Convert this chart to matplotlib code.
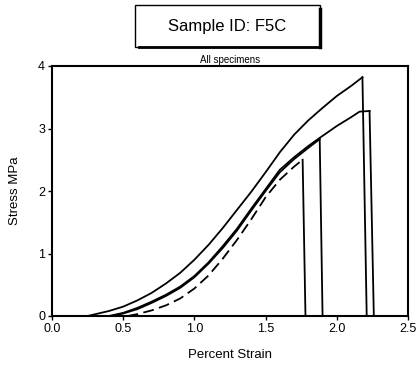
import matplotlib
matplotlib.use("Agg")
import matplotlib.pyplot as plt
from matplotlib.patches import Rectangle
from matplotlib.lines import Line2D

plt.rcParams['font.family'] = ['Liberation Sans', 'DejaVu Sans']

# Specimen curves (strain %, stress MPa)
s1_strain = [0.25, 0.40, 0.50, 0.60, 0.70, 0.80, 0.90, 1.00, 1.10, 1.20, 1.30, 1.40,
             1.50, 1.60, 1.70, 1.80, 1.90, 2.00, 2.10, 2.18]
s1_stress = [0.00, 0.08, 0.15, 0.25, 0.37, 0.52, 0.69, 0.90, 1.14, 1.41, 1.70, 1.99,
             2.30, 2.62, 2.90, 3.13, 3.33, 3.52, 3.68, 3.82]
s1_break = 2.21

s2_strain = [0.40, 0.50, 0.60, 0.70, 0.80, 0.90, 1.00, 1.10, 1.20, 1.30, 1.40, 1.50,
             1.60, 1.70, 1.80, 1.88, 2.00, 2.10, 2.16, 2.23]
s2_stress = [0.00, 0.05, 0.13, 0.23, 0.34, 0.47, 0.64, 0.86, 1.12, 1.40, 1.72, 2.03,
             2.34, 2.54, 2.72, 2.85, 3.04, 3.18, 3.27, 3.28]
s2_break = 2.26

s3_strain = [0.42, 0.50, 0.60, 0.70, 0.80, 0.90, 1.00, 1.10, 1.20, 1.30, 1.40, 1.50,
             1.60, 1.70, 1.80, 1.88]
s3_stress = [0.00, 0.04, 0.11, 0.21, 0.32, 0.45, 0.62, 0.84, 1.09, 1.37, 1.69, 2.00,
             2.30, 2.51, 2.69, 2.83]
s3_break = 1.90

s4_strain = [0.53, 0.60, 0.70, 0.80, 0.90, 1.00, 1.10, 1.20, 1.30, 1.40, 1.50, 1.60,
             1.70, 1.76]
s4_stress = [0.00, 0.03, 0.09, 0.17, 0.28, 0.44, 0.65, 0.92, 1.22, 1.55, 1.90, 2.18,
             2.39, 2.50]
s4_break = 1.78

xticks = [0.0, 0.5, 1.0, 1.5, 2.0, 2.5]
xticklabels = ["0.0", "0.5", "1.0", "1.5", "2.0", "2.5"]
yticks = [0, 1, 2, 3, 4]
yticklabels = ["0", "1", "2", "3", "4"]

W, H = 420, 372
fig = plt.figure(figsize=(W / 100, H / 100), dpi=100)
fig.patch.set_facecolor('white')
ax = fig.add_axes([52 / W, 1 - 316 / H, (408 - 52) / W, (316 - 66) / H])

lw = 1.3
for xs, ys, xb, ls in [(s1_strain, s1_stress, s1_break, '-'),
                       (s2_strain, s2_stress, s2_break, '-'),
                       (s3_strain, s3_stress, s3_break, '-'),
                       (s4_strain, s4_stress, s4_break, (0, (6, 3)))]:
    ax.plot(xs, ys, color='black', lw=lw, ls=ls)
    ax.plot([xs[-1], xb], [ys[-1], 0], color='black', lw=lw, ls='-')

ax.set_xlim(0, 2.5)
ax.set_ylim(0, 4)
ax.set_xticks(xticks)
ax.set_xticklabels(xticklabels, fontsize=9)
ax.set_yticks(yticks)
ax.set_yticklabels(yticklabels, fontsize=9)
ax.tick_params(direction='out', length=3, width=1, pad=2)
for sp in ax.spines.values():
    sp.set_linewidth(1.5)
ax.set_xlabel("Percent Strain", fontsize=9.5, labelpad=10)
ax.set_ylabel("Stress MPa", fontsize=9.5, labelpad=12)
ax.set_title("All specimens", fontsize=7, pad=2)

# title box with shadow
x0, y0, x1, y1 = 135 / W, 1 - 47 / H, 320 / W, 1 - 5 / H
fig.patches.append(Rectangle((x0, y0), x1 - x0, y1 - y0, transform=fig.transFigure,
                             fill=False, edgecolor='black', lw=1.0))
fig.lines.append(Line2D([x1, x1], [y0, y1 - 0.01], transform=fig.transFigure, color='black', lw=2.5))
fig.lines.append(Line2D([x0 + 0.01, x1], [y0, y0], transform=fig.transFigure, color='black', lw=2.0))
fig.text((x0 + x1) / 2, (y0 + y1) / 2, "Sample ID: F5C", ha='center', va='center', fontsize=12)

fig.savefig("out.png", dpi=100)
